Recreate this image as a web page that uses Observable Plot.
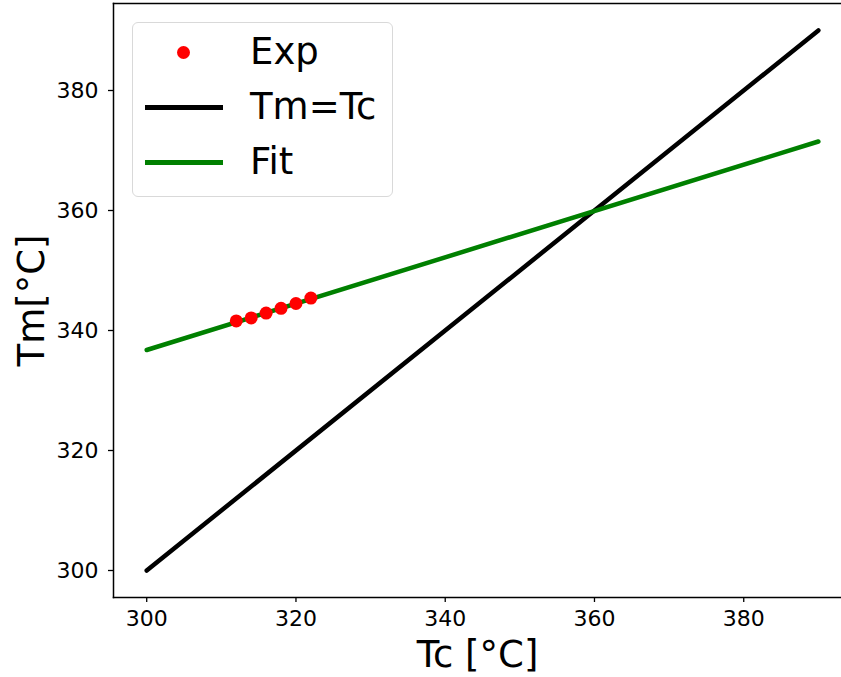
<!DOCTYPE html>
<html>
<head>
<meta charset="utf-8">
<script src="https://cdn.jsdelivr.net/npm/d3@7"></script>
<script src="https://cdn.jsdelivr.net/npm/@observablehq/plot@0.6"></script>
<style>
  html, body { margin: 0; padding: 0; background: white; }
  #wrap { position: relative; width: 841px; height: 677px; overflow: hidden; font-family: "DejaVu Sans", sans-serif; }
  #legend { position: absolute; left: 132px; top: 22px; width: 259px; height: 173px;
            border: 1.5px solid #d9d9d9; border-radius: 6px; background: rgba(255,255,255,0.8); }
  .entry { position: absolute; left: 0; height: 44px; width: 100%; }
  .handle { position: absolute; left: 12px; width: 78px; top: 20px; height: 4.5px; }
  .dot { position: absolute; left: 44px; top: 16px; width: 13px; height: 13px; border-radius: 50%; background: #ff0000; }
  .lbl { position: absolute; left: 117px; top: 0; font-size: 37px; line-height: 44px; color: black; white-space: pre; }
</style>
</head>
<body>
<div id="wrap">
  <div id="chart"></div>
  <div id="legend"></div>
</div>
<script>
// Experimental points
const expTc = [312, 314, 316, 318, 320, 322];
const expTm = [341.6, 342.1, 342.9, 343.7, 344.5, 345.4];
// Tm = Tc reference line endpoints
const diagTc = [300, 390];
const diagTm = [300, 390];
// Linear fit endpoints
const fitTc = [300, 390];
const fitTm = [336.75, 371.5];
// Ticks
const xTicks = [300, 320, 340, 360, 380];
const yTicks = [300, 320, 340, 360, 380];
// Labels
const xLabel = "Tc [°C]";
const yLabel = "Tm[°C]";
const legendItems = [
  {name: "Exp", kind: "dot", color: "#ff0000"},
  {name: "Tm=Tc", kind: "line", color: "#000000"},
  {name: "Fit", kind: "line", color: "#008000"}
];

const expData = expTc.map((x, i) => ({x, y: expTm[i]}));
const diagData = diagTc.map((x, i) => ({x, y: diagTm[i]}));
const fitData = fitTc.map((x, i) => ({x, y: fitTm[i]}));

const chart = Plot.plot({
  width: 841,
  height: 677,
  marginLeft: 113,
  marginRight: 0,
  marginTop: 3,
  marginBottom: 80,
  x: {domain: [295.55, 393.1]},
  y: {domain: [295.5, 394.5]},
  style: {fontFamily: "DejaVu Sans", background: "white", color: "black"},
  marks: [
    Plot.axisX({ticks: xTicks, tickSize: 5, tickPadding: 8, fontSize: 22, label: null, tickFormat: d => String(d), strokeWidth: 1.3}),
    Plot.axisY({ticks: yTicks, tickSize: 5, tickPadding: 10, fontSize: 22, label: null, tickFormat: d => String(d), strokeWidth: 1.3}),
    Plot.frame({anchor: "left", strokeWidth: 1.5}),
    Plot.frame({anchor: "bottom", strokeWidth: 1.5}),
    Plot.frame({anchor: "top", strokeWidth: 1.5}),
    Plot.line(diagData, {x: "x", y: "y", stroke: "black", strokeWidth: 4.5}),
    Plot.line(fitData, {x: "x", y: "y", stroke: "#008000", strokeWidth: 4.5}),
    Plot.dot(expData, {x: "x", y: "y", r: 6.5, fill: "#ff0000", stroke: "none"}),
    Plot.text([xLabel], {frameAnchor: "bottom", dy: 58, fontSize: 37, lineAnchor: "middle", textAnchor: "middle", text: d => d}),
    Plot.text([yLabel], {frameAnchor: "left", dx: -81, fontSize: 37, rotate: -90, lineAnchor: "middle", textAnchor: "middle", text: d => d})
  ]
});
document.getElementById("chart").appendChild(chart);

const legend = document.getElementById("legend");
const rowCenters = [29, 84, 139];
legendItems.forEach((it, i) => {
  const e = document.createElement("div");
  e.className = "entry";
  e.style.top = (rowCenters[i] - 22) + "px";
  const h = document.createElement("div");
  if (it.kind === "dot") { h.className = "dot"; h.style.background = it.color; }
  else { h.className = "handle"; h.style.background = it.color; }
  e.appendChild(h);
  const t = document.createElement("div");
  t.className = "lbl";
  t.textContent = it.name;
  e.appendChild(t);
  legend.appendChild(e);
});
</script>
</body>
</html>
